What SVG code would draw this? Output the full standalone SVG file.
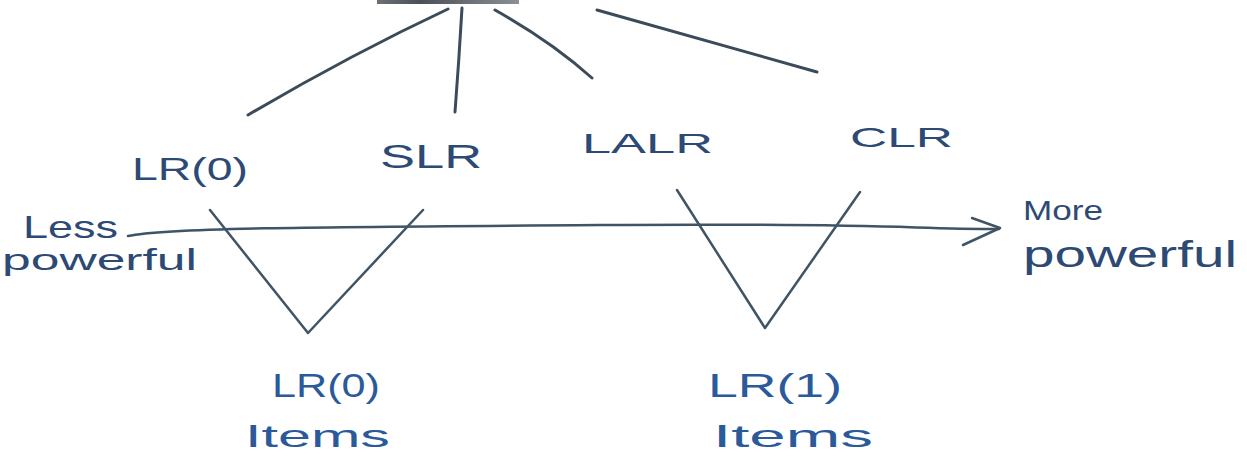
<svg xmlns="http://www.w3.org/2000/svg" width="1247" height="462" viewBox="0 0 1247 462">
  <defs>
    <linearGradient id="barGrad" x1="0" y1="0" x2="1" y2="0">
      <stop offset="0" stop-color="#6b7177"/>
      <stop offset="0.3" stop-color="#4a5056"/>
      <stop offset="1" stop-color="#8a9096"/>
    </linearGradient>
  </defs>
  <style>
    .ink { fill: none; stroke: #3c4b5a; stroke-width: 3; stroke-linecap: round; stroke-linejoin: round; }
    .thin { fill: none; stroke: #3f5566; stroke-width: 2.5; stroke-linecap: round; stroke-linejoin: round; }
    .lbl { font-family: "Liberation Sans", "DejaVu Sans", sans-serif; fill: #2d4a74; }
    .blue { fill: #2b5a9a; }
  </style>
  <rect width="1247" height="462" fill="#ffffff"/>

  <g id="root">
    <rect x="377" y="0" width="142" height="4" fill="url(#barGrad)"/>
  </g>

  <g id="connectors">
    <path class="ink" d="M448 9 Q350 55 248 115"/>
    <path class="ink" d="M462 8 Q459 60 455 112"/>
    <path class="ink" d="M495 10 Q552 42 592 78"/>
    <path class="ink" d="M597 10 L817 72"/>
    <path class="thin" d="M128 236 C165 228 300 227 600 225 S900 229 999 229"/>
    <polyline class="thin" points="972,218 1000,228 963,245"/>
    <polyline class="thin" points="210,210 308,333 423,210"/>
    <polyline class="thin" points="677,190 765,328 860,192"/>
  </g>

  <g id="lr0">
    <text class="lbl" x="132" y="180" font-size="32" textLength="116" lengthAdjust="spacingAndGlyphs">LR(0)</text>
  </g>
  <g id="slr">
    <text class="lbl" x="380" y="168" font-size="34" textLength="102" lengthAdjust="spacingAndGlyphs">SLR</text>
  </g>
  <g id="lalr">
    <text class="lbl" x="582" y="153" font-size="28" textLength="131" lengthAdjust="spacingAndGlyphs">LALR</text>
  </g>
  <g id="clr">
    <text class="lbl" x="850" y="147" font-size="28" textLength="103" lengthAdjust="spacingAndGlyphs">CLR</text>
  </g>
  <g id="less-powerful">
    <text class="lbl" x="23" y="238" font-size="32" textLength="95" lengthAdjust="spacingAndGlyphs">Less</text>
    <text class="lbl" x="2" y="270" font-size="30" textLength="195" lengthAdjust="spacingAndGlyphs">powerful</text>
  </g>
  <g id="more-powerful">
    <text class="lbl" x="1023" y="220" font-size="28" textLength="80" lengthAdjust="spacingAndGlyphs">More</text>
    <text class="lbl" x="1023" y="267" font-size="36" textLength="214" lengthAdjust="spacingAndGlyphs">powerful</text>
  </g>
  <g id="lr0-items">
    <text class="lbl blue" x="272" y="397" font-size="34" textLength="108" lengthAdjust="spacingAndGlyphs">LR(0)</text>
    <text class="lbl blue" x="245" y="447" font-size="32" textLength="145" lengthAdjust="spacingAndGlyphs">Items</text>
  </g>
  <g id="lr1-items">
    <text class="lbl blue" x="708" y="397" font-size="34" textLength="134" lengthAdjust="spacingAndGlyphs">LR(1)</text>
    <text class="lbl blue" x="713" y="447" font-size="32" textLength="160" lengthAdjust="spacingAndGlyphs">Items</text>
  </g>
</svg>
